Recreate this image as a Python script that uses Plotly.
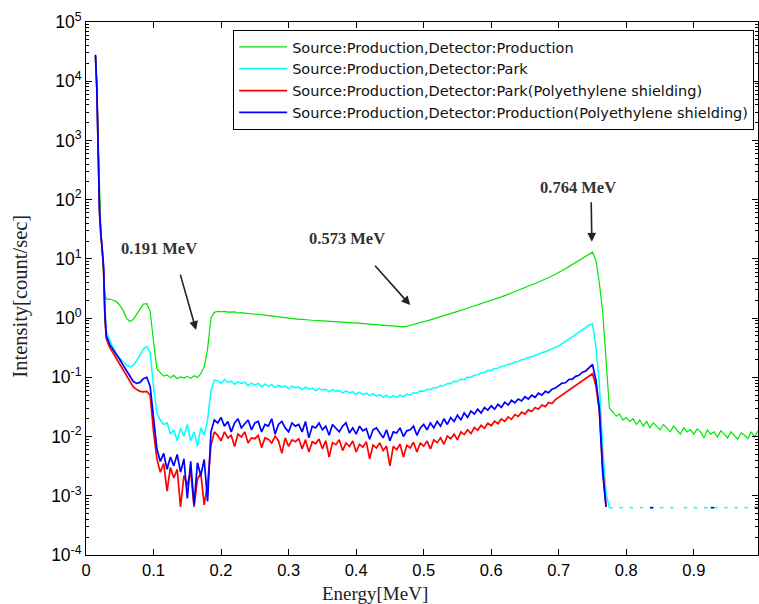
import plotly.graph_objects as go

# Channel energies (MeV): fine steps on the low-energy spike, then 5 keV bins
ENERGY_HEAD = [0.014, 0.016, 0.018, 0.020, 0.022, 0.024, 0.026, 0.028, 0.030]
energy = ENERGY_HEAD + [round(0.035 + 0.005 * i, 3) for i in range(193)]

N = None     # empty channel (zero counts, not drawn on a log axis)
F = 6.3e-4   # single-count floor

# Source:Production, Detector:Production
prod_prod = [
    2.8e4, 8.5e3, 1.1e3, 110, 30, 14, 6.0, 2.6, 2.1,
    2.1, 2.0, 1.9, 1.65, 1.35, 1.0, 0.88, 0.95, 1.15, 1.45, 1.72, 1.75, 1.3,
    0.4, 0.14, 0.12, 0.105, 0.11, 0.098, 0.108, 0.095, 0.102, 0.097,
    0.104, 0.096, 0.106, 0.099, 0.115, 0.15, 0.3, 1.0, 1.25, 1.3,
    1.28, 1.3, 1.26, 1.25, 1.27, 1.22, 1.24, 1.21, 1.2, 1.18,
    1.19, 1.15, 1.14, 1.12, 1.1, 1.08, 1.07, 1.05, 1.03, 1.02,
    1.0, 0.98, 0.97, 0.95, 0.95, 0.93, 0.93, 0.92, 0.92, 0.9,
    0.9, 0.89, 0.88, 0.87, 0.87, 0.86, 0.85, 0.85, 0.84, 0.83,
    0.83, 0.81, 0.81, 0.8, 0.79, 0.78, 0.78, 0.77, 0.76, 0.75,
    0.75, 0.74, 0.73, 0.72, 0.71, 0.73, 0.76, 0.78, 0.81, 0.84,
    0.87, 0.9, 0.94, 0.98, 1.02, 1.06, 1.1, 1.15, 1.2, 1.25,
    1.3, 1.35, 1.41, 1.47, 1.53, 1.6, 1.67, 1.74, 1.82, 1.9,
    1.98, 2.07, 2.17, 2.28, 2.4, 2.52, 2.65, 2.8, 2.95, 3.1,
    3.28, 3.45, 3.65, 3.85, 4.05, 4.3, 4.55, 4.85, 5.15, 5.5,
    5.85, 6.3, 6.8, 7.4, 8.0, 8.7, 9.5, 10.3, 11.2, 12.2,
    13.0, 9.5, 4.0, 1.3, 0.2, 0.03, 0.026, 0.022, 0.024, 0.019,
    0.021, 0.018, 0.02, 0.016, 0.019, 0.015, 0.018, 0.014, 0.017, 0.015,
    0.013, 0.016, 0.014, 0.012, 0.015, 0.013, 0.011, 0.014, 0.012, 0.013,
    0.011, 0.0135, 0.012, 0.0095, 0.013, 0.011, 0.012, 0.0098, 0.0125, 0.011,
    0.0095, 0.012, 0.0105, 0.009, 0.0115, 0.0105, 0.0092, 0.012, 0.0098, 0.0125,
]

# Source:Production, Detector:Park
prod_park = [
    2.6e4, 7.5e3, 7.6e2, 70, 28, 16, 7.0, 1.5, 0.6,
    0.42, 0.32, 0.25, 0.21, 0.18, 0.16, 0.15, 0.16, 0.19, 0.24, 0.3, 0.33, 0.26,
    0.07, 0.025, 0.019, 0.016, 0.017, 0.011, 0.013, 0.0085, 0.014, 0.01,
    0.016, 0.0085, 0.012, 0.0068, 0.014, 0.0105, 0.019, 0.06, 0.09, 0.088,
    0.079, 0.092, 0.082, 0.086, 0.076, 0.084, 0.079, 0.083, 0.072, 0.08,
    0.074, 0.079, 0.069, 0.077, 0.071, 0.075, 0.067, 0.074, 0.068, 0.072,
    0.064, 0.071, 0.066, 0.069, 0.062, 0.068, 0.063, 0.066, 0.059, 0.065,
    0.061, 0.063, 0.057, 0.062, 0.058, 0.06, 0.054, 0.059, 0.055, 0.057,
    0.052, 0.056, 0.051, 0.054, 0.049, 0.053, 0.048, 0.051, 0.046, 0.05,
    0.045, 0.049, 0.046, 0.05, 0.047, 0.052, 0.05, 0.055, 0.054, 0.059,
    0.058, 0.063, 0.062, 0.067, 0.067, 0.073, 0.072, 0.079, 0.078, 0.086,
    0.085, 0.093, 0.092, 0.1, 0.1, 0.109, 0.11, 0.119, 0.12, 0.13,
    0.131, 0.141, 0.143, 0.153, 0.156, 0.167, 0.17, 0.182, 0.186, 0.198,
    0.204, 0.217, 0.223, 0.237, 0.245, 0.26, 0.27, 0.285, 0.3, 0.32,
    0.34, 0.37, 0.4, 0.44, 0.48, 0.53, 0.58, 0.63, 0.69, 0.76,
    0.8, 0.33, 0.08, 0.0065, 0.0011, F, F, N, F, F,
    N, F, F, N, F, F, N, F, F, N,
    F, F, N, F, F, N, N, F, F, N,
    F, F, N, F, F, N, F, F, N, F,
    F, N, F, F, N, F, F, N, F, F,
]

# Source:Production, Detector:Park (polyethylene shielding)
park_shield = [
    2.7e4, 7.8e3, 6.8e2, 60, 25, 15, 6.5, 1.0, 0.45,
    0.32, 0.26, 0.21, 0.17, 0.135, 0.11, 0.09, 0.069, 0.062, 0.058, 0.057, 0.058, 0.05,
    0.012, 0.0042, 0.0025, 0.0035, 0.0012, 0.003, 0.002, 0.0028, 0.00065, 0.0022,
    0.0015, 0.0026, 0.00065, 0.0019, 0.0024, 0.0007, 0.0016, 0.007, 0.012, 0.0105,
    0.0085, 0.012, 0.0095, 0.0105, 0.0068, 0.011, 0.0098, 0.012, 0.0078, 0.0095,
    0.0092, 0.0105, 0.0065, 0.0095, 0.009, 0.0078, 0.0102, 0.0085, 0.0052, 0.0095,
    0.0068, 0.0088, 0.0082, 0.0092, 0.0062, 0.0088, 0.0055, 0.0082, 0.0076, 0.0091,
    0.0062, 0.0085, 0.0045, 0.0079, 0.0073, 0.0088, 0.0058, 0.0078, 0.0068, 0.0084,
    0.0055, 0.0074, 0.0066, 0.0082, 0.0042, 0.0072, 0.0064, 0.0078, 0.0058, 0.0069,
    0.0032, 0.0068, 0.006, 0.0074, 0.0045, 0.0071, 0.0064, 0.008, 0.0055, 0.0077,
    0.0069, 0.0084, 0.0062, 0.0088, 0.0079, 0.0095, 0.0074, 0.0102, 0.0092, 0.011,
    0.0088, 0.012, 0.0108, 0.013, 0.0112, 0.0142, 0.0128, 0.0155, 0.0138, 0.0168,
    0.0152, 0.0182, 0.0165, 0.0198, 0.018, 0.0215, 0.0195, 0.0235, 0.0218, 0.0258,
    0.024, 0.0282, 0.0265, 0.031, 0.029, 0.034, 0.032, 0.0375, 0.036, 0.042,
    0.046, 0.05, 0.055, 0.06, 0.066, 0.072, 0.08, 0.088, 0.097, 0.106,
    0.115, 0.072, 0.028, 0.003, 0.00065, N, N, N, N, N,
    N, N, N, N, N, N, N, N, N, N,
    N, N, N, N, N, N, N, N, N, N,
    N, N, N, N, N, N, N, N, N, N,
    N, N, N, N, N, N, N, N, F, F,
]

# Source:Production, Detector:Production (polyethylene shielding)
prod_shield = [
    2.8e4, 8.0e3, 7.4e2, 65, 27, 16, 7.5, 1.2, 0.5,
    0.36, 0.3, 0.24, 0.2, 0.16, 0.13, 0.105, 0.085, 0.079, 0.082, 0.095, 0.1, 0.07,
    0.018, 0.0062, 0.0038, 0.0052, 0.0028, 0.0045, 0.0032, 0.005, 0.0025, 0.0042,
    0.0009, 0.0038, 0.0007, 0.0036, 0.0022, 0.0041, 0.0008, 0.012, 0.019, 0.017,
    0.021, 0.015, 0.018, 0.012, 0.017, 0.02, 0.014, 0.016, 0.019, 0.013,
    0.017, 0.018, 0.012, 0.016, 0.015, 0.02, 0.011, 0.016, 0.018, 0.014,
    0.012, 0.017, 0.015, 0.016, 0.012, 0.018, 0.0095, 0.015, 0.014, 0.017,
    0.013, 0.015, 0.0105, 0.016, 0.014, 0.012, 0.015, 0.017, 0.0115, 0.014,
    0.011, 0.015, 0.0125, 0.0135, 0.009, 0.013, 0.014, 0.0115, 0.0095, 0.013,
    0.0085, 0.012, 0.0115, 0.014, 0.01, 0.0125, 0.013, 0.015, 0.0105, 0.014,
    0.016, 0.013, 0.017, 0.014, 0.018, 0.015, 0.02, 0.016, 0.021, 0.018,
    0.023, 0.019, 0.025, 0.021, 0.027, 0.024, 0.029, 0.025, 0.031, 0.028,
    0.033, 0.029, 0.035, 0.031, 0.038, 0.034, 0.041, 0.037, 0.043, 0.04,
    0.047, 0.043, 0.05, 0.046, 0.054, 0.05, 0.058, 0.055, 0.063, 0.066,
    0.072, 0.08, 0.081, 0.092, 0.093, 0.104, 0.108, 0.122, 0.128, 0.148,
    0.165, 0.09, 0.03, 0.0025, 0.00065, N, N, N, N, N,
    N, N, N, N, N, N, N, F, F, N,
    N, N, N, N, N, N, N, N, N, N,
    N, N, N, N, N, F, F, N, N, N,
    N, N, N, N, N, N, N, N, N, N,
]

SERIES = [
    ("Source:Production,Detector:Production", prod_prod, "#00e600", 1.2),
    ("Source:Production,Detector:Park", prod_park, "#00ffff", 1.5),
    ("Source:Production,Detector:Park(Polyethylene shielding)", park_shield, "#ff0000", 1.7),
    ("Source:Production,Detector:Production(Polyethylene shielding)", prod_shield, "#0000ff", 1.7),
]

# Decade ticks on the intensity axis
DECADES = [-4, -3, -2, -1, 0, 1, 2, 3, 4, 5]
decade_vals = [10.0 ** d for d in DECADES]
decade_text = ["10<sup>%d</sup>" % d for d in DECADES]

# Peak markers: (label, label x, label log10 y, arrow head x/logy, arrow tail x/logy)
PEAKS = [
    ("0.191 MeV", 0.108, 1.17, 0.163, -0.20, 0.139, 0.76),
    ("0.573 MeV", 0.3865, 1.34, 0.480, 0.22, 0.426, 0.91),
    ("0.764 MeV", 0.7285, 2.21, 0.749, 1.29, 0.748, 1.98),
]

fig = go.Figure()
for name, vals, color, lw in SERIES:
    fig.add_trace(go.Scatter(
        x=energy, y=vals, name=name, mode="lines",
        line=dict(color=color, width=lw), connectgaps=False,
    ))

annotations = []
for label, tx, ty, hx, hy, sx, sy in PEAKS:
    annotations.append(dict(
        x=tx, y=ty, xref="x", yref="y", text=label, showarrow=False,
        font=dict(family="Liberation Serif", size=16.5, color="#333333", weight="bold"),
    ))
    annotations.append(dict(
        x=hx, y=hy, ax=sx, ay=sy, xref="x", yref="y", axref="x", ayref="y",
        text="", showarrow=True, arrowhead=2, arrowsize=1.1, arrowwidth=1.6,
        arrowcolor="#222222",
    ))

annotations.append(dict(
    x=-0.098, y=0.485, xref="paper", yref="paper", text="Intensity[count/sec]",
    textangle=-90, showarrow=False, xanchor="center", yanchor="middle",
    font=dict(family="Liberation Serif", size=20.5, color="#222222"),
))
annotations.append(dict(
    x=0.43, y=-0.073, xref="paper", yref="paper", text="Energy[MeV]",
    showarrow=False, xanchor="center", yanchor="middle",
    font=dict(family="Liberation Serif", size=19, color="#222222"),
))

fig.update_layout(
    width=759, height=604,
    margin=dict(l=86, r=1, t=22, b=49),
    paper_bgcolor="white", plot_bgcolor="white",
    showlegend=True,
    legend=dict(
        x=0.219, y=0.985, xanchor="left", yanchor="top",
        bgcolor="white", bordercolor="black", borderwidth=1,
        font=dict(family="DejaVu Sans", size=14.5, color="#111111"),
        itemwidth=48,
    ),
    annotations=annotations,
    font=dict(family="Liberation Sans", color="black"),
)

fig.update_xaxes(
    range=[0, 0.995], dtick=0.1, tick0=0,
    showline=True, linecolor="black", linewidth=1, mirror="ticks",
    ticks="inside", ticklen=6, tickcolor="black",
    showgrid=False, zeroline=False,
    tickfont=dict(family="Liberation Sans", size=16.5, color="black"),
)
fig.update_yaxes(
    type="log", range=[-4, 5],
    tickmode="array", tickvals=decade_vals, ticktext=decade_text,
    showline=True, linecolor="black", linewidth=1, mirror="ticks",
    ticks="inside", ticklen=6, tickcolor="black",
    minor=dict(ticks="inside", ticklen=3, tickcolor="black", dtick="D1", showgrid=False),
    showgrid=False, zeroline=False,
    tickfont=dict(family="Liberation Sans", size=17.5, color="black"),
)

fig.write_html("out.html")
